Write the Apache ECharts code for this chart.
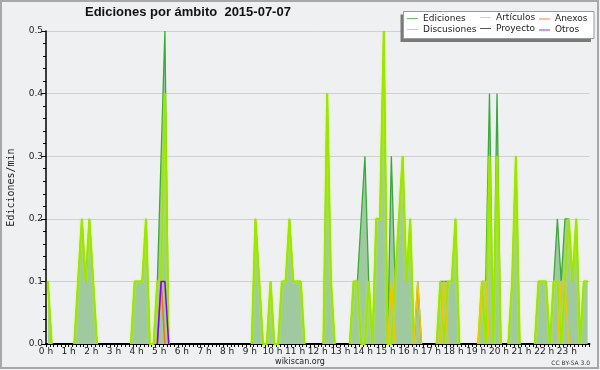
<!DOCTYPE html>
<html><head><meta charset="utf-8">
<script src="https://cdn.jsdelivr.net/npm/echarts@6/dist/echarts.min.js"></script>
<style>html,body{margin:0;padding:0;background:#eef0f2}#c{width:600px;height:370px}</style>
</head><body><div id="c"></div>
<script>
// 10-minute bins over the day (144 bins), values in edits/min
const binMinutes = 10;
const hourLabels = ['0 h','1 h','2 h','3 h','4 h','5 h','6 h','7 h','8 h','9 h','10 h','11 h','12 h','13 h','14 h','15 h','16 h','17 h','18 h','19 h','20 h','21 h','22 h','23 h'];
const yTickLabels = ['0.0','0.1','0.2','0.3','0.4','0.5'];

const ediciones = [
  0.1,0,0,0,0,0,0,0,0.1,0.2,0.1,0.2,
  0.1,0,0,0,0,0,0,0,0,0,0,0.1,
  0.1,0.1,0.2,0,0,0.1,0.3,0.5,0,0,0,0,
  0,0,0,0,0,0,0,0,0,0,0,0,
  0,0,0,0,0,0,0,0.2,0.1,0,0,0.1,
  0,0,0.1,0.1,0.2,0.1,0.1,0.1,0,0,0,0,
  0,0,0.4,0.1,0,0,0,0,0,0.1,0.1,0.2,
  0.3,0.1,0,0.2,0.2,0.5,0,0.3,0.1,0.2,0.3,0.1,
  0.2,0,0.1,0,0,0,0,0,0.1,0.1,0.1,0.1,
  0.2,0,0,0,0,0,0,0.1,0.1,0.4,0,0.4,
  0,0,0,0.1,0.3,0,0,0,0,0,0.1,0.1,
  0.1,0,0.1,0.2,0.1,0.2,0.2,0.1,0.2,0,0.1,0.1
];
const articulos = [
  0.1,0,0,0,0,0,0,0,0.1,0.2,0.1,0.2,
  0.1,0,0,0,0,0,0,0,0,0,0,0.1,
  0.1,0.1,0.2,0,0,0.1,0.1,0.4,0,0,0,0,
  0,0,0,0,0,0,0,0,0,0,0,0,
  0,0,0,0,0,0,0,0.2,0.1,0,0,0.1,
  0,0,0.1,0.1,0.2,0.1,0.1,0.1,0,0,0,0,
  0,0,0.4,0.1,0,0,0,0,0,0.1,0.1,0,
  0,0.1,0,0.2,0.2,0.5,0,0,0.1,0.2,0.3,0.1,
  0.2,0,0,0,0,0,0,0,0.1,0,0.1,0.1,
  0.2,0,0,0,0,0,0,0.1,0,0.3,0,0.3,
  0,0,0,0.1,0.3,0,0,0,0,0,0.1,0.1,
  0.1,0,0.1,0.1,0,0.1,0.2,0.1,0.2,0,0.1,0.1
];
// sparse series: [bin index, value]
const discusiones = [[91,0.1],[98,0.1],[105,0.1],[115,0.1],[116,0.1],[136,0.1],[137,0.1]];
const anexos = [[30,0.1]];
const otros = [[30,0.1],[31,0.1]];
const proyecto = [];

const NB = ediciones.length;
function expand(sparse){ const a = new Array(NB).fill(0); sparse.forEach(p => { a[p[0]] = p[1]; }); return a; }
function toData(arr){
  return arr.map((v, i) => {
    const x = (i + 0.5) * binMinutes;
    const prev = i > 0 ? arr[i-1] : 0, next = i < arr.length - 1 ? arr[i+1] : 0;
    if (v === 0 && prev === 0 && next === 0) return [x, '-'];
    return [x, v];
  });
}

const chart = echarts.init(document.getElementById('c'), null, {renderer: 'canvas'});
const lbl = {fontFamily: 'DejaVu Sans', fontSize: 9, color: '#222'};
const legendText = {fontFamily: 'DejaVu Sans', fontSize: 9, color: '#222', lineHeight: 11, padding: 0};
function mkLegend(names, left, top){
  return {show: true, z: 50, orient: 'vertical', left: left, top: top, padding: 0, itemGap: 0,
    itemWidth: 11, itemHeight: 1, icon: 'rect', data: names, textStyle: legendText,
    selectedMode: false};
}
chart.setOption({
  animation: false,
  backgroundColor: '#eef0f2',
  title: {text: 'Ediciones por ámbito  2015-07-07', left: 85, top: 6, padding: 0,
    textStyle: {fontFamily: 'Liberation Sans', fontWeight: 'bold', fontSize: 13, color: '#111'}},
  grid: {left: 46, right: 10.5, top: 31, bottom: 26, containLabel: false, outerBoundsMode: 'none'},
  legend: [
    mkLegend(['Ediciones','Discusiones'], 407, 13),
    mkLegend(['Artículos','Proyecto'], 480, 12),
    mkLegend(['Anexos','Otros'], 539, 13.5)
  ],
  graphic: [
    {type: 'rect', z: 10, shape: {x: 400.5, y: 14.5, width: 190.5, height: 27.5}, style: {fill: '#7a7a7a'}},
    {type: 'rect', z: 11, shape: {x: 403.5, y: 11.5, width: 190.5, height: 27}, style: {fill: '#ffffff', stroke: '#9a9a9a', lineWidth: 1}},
    {type: 'text', z: 10, x: 300, y: 362, style: {text: 'wikiscan.org', fontFamily: 'DejaVu Sans', fontSize: 8, fill: '#222', align: 'center', verticalAlign: 'middle'}},
    {type: 'text', z: 10, x: 590, y: 363, style: {text: 'CC BY-SA 3.0', fontFamily: 'DejaVu Sans', fontSize: 6, fill: '#333', align: 'right', verticalAlign: 'middle'}},
    {type: 'rect', z: 10, shape: {x: 1, y: 1, width: 597, height: 367}, style: {fill: 'none', stroke: '#a8a8a8', lineWidth: 2}}
  ],
  xAxis: {type: 'value', min: 0, max: 1440, interval: 60,
    axisLine: {show: true, lineStyle: {color: '#000', width: 2}},
    axisTick: {show: true, length: 3, lineStyle: {color: '#000', width: 1}},
    minorTick: {show: true, splitNumber: 6, length: 3, lineStyle: {color: '#000', width: 1}},
    splitLine: {show: false},
    axisLabel: Object.assign({margin: 3, showMaxLabel: false, formatter: v => hourLabels[Math.round(v/60)] || ''}, lbl)
  },
  yAxis: {type: 'value', min: 0, max: 0.5, interval: 0.1,
    name: 'Ediciones/min', nameLocation: 'middle', nameRotate: 90, nameGap: 30,
    nameTextStyle: {fontFamily: 'DejaVu Sans Mono', fontSize: 10, color: '#222'},
    axisLine: {show: true, lineStyle: {color: '#000', width: 1.5}},
    axisTick: {show: true, length: 5, lineStyle: {color: '#000', width: 1}},
    minorTick: {show: true, splitNumber: 5, length: 3, lineStyle: {color: '#000', width: 1}},
    splitLine: {show: true, lineStyle: {color: '#cfcfcf', width: 1}},
    axisLabel: Object.assign({margin: 3, formatter: v => yTickLabels[Math.round(v*10)]}, lbl)
  },
  series: [
    {name: 'Ediciones', type: 'line', data: toData(ediciones), symbol: 'none', z: 2,
      color: '#6cc06c', lineStyle: {color: '#39a939', width: 1.3},
      areaStyle: {color: '#9fca9f', opacity: 1}},
    {name: 'Artículos', type: 'line', data: toData(articulos), symbol: 'none', z: 3,
      color: '#c8f040', lineStyle: {color: '#9de600', width: 2, shadowColor: 'rgba(200,255,0,0.7)', shadowBlur: 2}},
    {name: 'Anexos', type: 'line', data: toData(expand(anexos)), symbol: 'none', z: 5,
      color: '#ff7a30', lineStyle: {color: '#ff6a10', width: 1.5}},
    {name: 'Discusiones', type: 'line', data: toData(expand(discusiones)), symbol: 'none', z: 4,
      color: '#ffc830', lineStyle: {color: '#f5c400', width: 1.5}},
    {name: 'Proyecto', type: 'line', data: toData(expand(proyecto)), symbol: 'none', z: 4,
      color: '#555555', lineStyle: {color: '#444444', width: 1.5}},
    {name: 'Otros', type: 'line', data: toData(expand(otros)), symbol: 'none', z: 6,
      color: '#9030ff', lineStyle: {color: '#8000ff', width: 1.5}}
  ]
});
</script></body></html>
